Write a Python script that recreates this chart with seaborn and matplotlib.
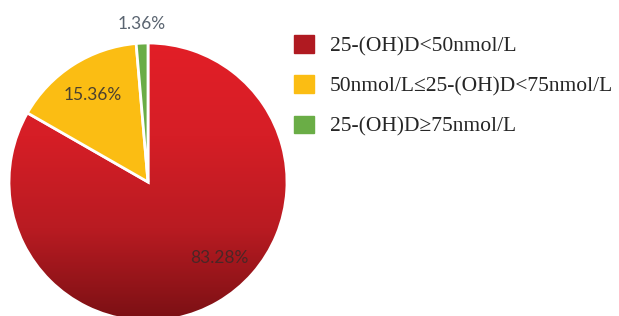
import numpy as np
import matplotlib
matplotlib.use("Agg")
import matplotlib.pyplot as plt
import matplotlib.patches as mpatches
from matplotlib.colors import LinearSegmentedColormap
import seaborn as sns

# %%
categories = ["25-(OH)D<50nmol/L", "50nmol/L≤25-(OH)D<75nmol/L", "25-(OH)D≥75nmol/L"]
shares = [83.28, 15.36, 1.36]
pct_labels = ["83.28%", "15.36%", "1.36%"]
colors = ["#d41f26", "#fbbd13", "#6aad46"]

sns.set_style("white")

# %%
W, H, dpi = 619, 316, 100
fig = plt.figure(figsize=(W / dpi, H / dpi), dpi=dpi)
R = 139
cx, cy = 148, 316 - 182
ax = fig.add_axes([(cx - R) / W, (cy - R) / H, 2 * R / W, 2 * R / H])

wedges, _ = ax.pie(shares, colors=colors, startangle=90, counterclock=False,
                   radius=1, wedgeprops=dict(edgecolor="white", linewidth=2))

# red gradient, bright on top and dark at the bottom
red = wedges[0]
grad_cmap = LinearSegmentedColormap.from_list("red_grad", ["#7a1014", "#b91b22", "#d61e26", "#e21f27"])
grad = np.linspace(0, 1, 256).reshape(-1, 1)
img = ax.imshow(grad, cmap=grad_cmap, origin="lower", extent=[-1, 1, -1, 1],
                aspect="auto", zorder=0.5)
img.set_clip_path(red)
red.set_facecolor("none")

ax.set_xlim(-1, 1)
ax.set_ylim(-1, 1)
ax.set_aspect("equal")
ax.axis("off")

# percentage labels
label_pos = [(0.75, 13), (0.74, 0), (1.14, 0)]  # (radius, angle shift)
text_colors = ["#4a2626", "#4a4030", "#5a6470"]
for w, lab, (r, shift), tc in zip(wedges, pct_labels, label_pos, text_colors):
    ang = np.deg2rad((w.theta1 + w.theta2) / 2 + shift)
    ax.text(r * np.cos(ang), r * np.sin(ang), lab, ha="center", va="center",
            fontsize=12.5, color=tc, family="Lato")

# legend
handles = [mpatches.Patch(color=c, label=l) for c, l in zip(["#b01a21", colors[1], colors[2]], categories)]
fig.legend(handles=handles, loc="upper left", bbox_to_anchor=(294 / W, 1 - 35 / H),
           frameon=False, prop={"family": "Liberation Serif", "size": 15.5},
           handlelength=0.93, handleheight=0.9, handletextpad=0.75,
           labelspacing=0.88, borderaxespad=0, borderpad=0)

fig.savefig("out.png", dpi=dpi)
